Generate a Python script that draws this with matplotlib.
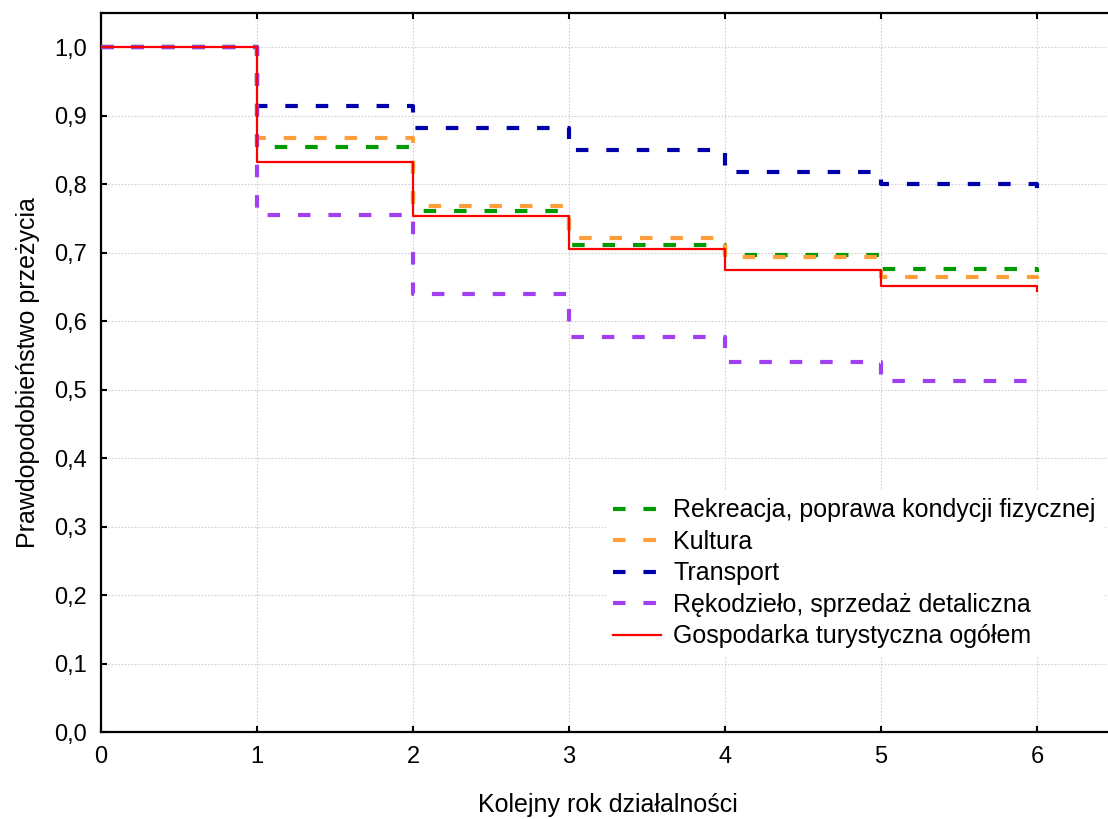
import numpy as np
import matplotlib
matplotlib.use('Agg')
from matplotlib import pyplot as plt

plt.rcParams['font.family'] = ['Liberation Sans', 'DejaVu Sans']

# kolejne lata działalności (ostatni punkt = koniec obserwacji)
lata = [0, 1, 2, 3, 4, 5, 6]

rekreacja = [1.0, 0.854, 0.761, 0.711, 0.697, 0.676, 0.672]
kultura = [1.0, 0.868, 0.768, 0.722, 0.693, 0.665, 0.662]
transport = [1.0, 0.914, 0.882, 0.850, 0.818, 0.800, 0.786]
rekodzielo = [1.0, 0.755, 0.640, 0.577, 0.541, 0.512, 0.512]
ogolem = [1.0, 0.833, 0.753, 0.705, 0.675, 0.652, 0.644]

etykiety = ['Rekreacja, poprawa kondycji fizycznej', 'Kultura', 'Transport',
            'Rękodzieło, sprzedaż detaliczna', 'Gospodarka turystyczna ogółem']
kolory = ['#009900', '#FF9E3A', '#0000AA', '#A040F0', '#FF0000']

y_ticks = np.arange(0, 1.01, 0.1)
y_labels = ['%.1f' % v for v in y_ticks]
y_labels = [s.replace('.', ',') for s in y_labels]

fs = 18

fig = plt.figure(figsize=(11.08, 8.19), dpi=100)
ax = fig.add_axes([0.0912, 0.1062, 0.915, 0.878])

serie = [rekreacja, kultura, transport, rekodzielo]
for s, lab, kol in zip(serie, etykiety[:4], kolory[:4]):
    ax.step(lata, s, where='post', color=kol, lw=3, label=lab,
            dashes=(3, 4.3), zorder=3)
ax.step(lata, ogolem, where='post', color=kolory[4], lw=1.6,
        label=etykiety[4], zorder=4)

ax.set_xlim(0, 6.5)
ax.set_ylim(0, 1.05)
ax.set_xticks(lata)
ax.set_yticks(y_ticks)
ax.set_yticklabels(y_labels)
ax.tick_params(direction='in', length=4, width=1.5, labelsize=17,
               top=True, right=True, pad=10)
ax.grid(True, color='#d0d0d0', linestyle=(0, (1.5, 1.5)), lw=0.8)
ax.set_axisbelow(True)
for sp in ax.spines.values():
    sp.set_linewidth(1.6)

ax.set_xlabel('Kolejny rok działalności', fontsize=fs, labelpad=18)
ax.set_ylabel('Prawdopodobieństwo przeżycia', fontsize=fs, labelpad=10)

leg = ax.legend(loc='center', bbox_to_anchor=(0.771, 0.300),
                bbox_transform=fig.transFigure, fontsize=fs,
                frameon=True, fancybox=False, edgecolor='white',
                framealpha=1, handlelength=1.92, handletextpad=0.48,
                labelspacing=0.3, borderpad=0.3)
leg.get_frame().set_linewidth(0)

fig.savefig('out.png', dpi=100)
